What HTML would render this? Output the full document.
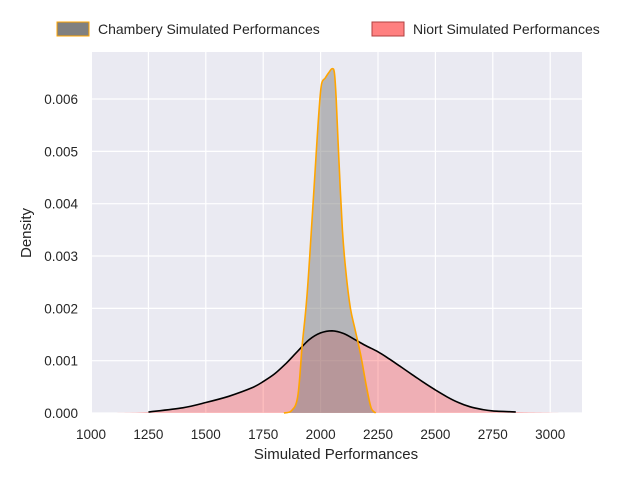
<!DOCTYPE html>
<html><head><style>
body{margin:0;background:#fff;}
svg text{font-family:"Liberation Sans",Arial,sans-serif;fill:#262626;}
</style></head><body>
<svg id="s" width="640" height="480" xmlns="http://www.w3.org/2000/svg">
<rect x="92" y="52" width="490" height="361" fill="#eaeaf2"/>
<g id="grid" stroke="#fff" stroke-width="1.2"></g>
<path id="niort" fill="rgba(255,0,0,0.25)" stroke="none"/>
<path id="cham" fill="rgba(128,128,128,0.5)" stroke="none"/>
<path id="niortL" fill="none" stroke="#000" stroke-width="1.6"/>
<path id="chamL" fill="none" stroke="#ffa500" stroke-width="1.6"/>
<g id="ticks" font-size="13.5"></g>
<text x="336" y="459" font-size="15" text-anchor="middle">Simulated Performances</text>
<text transform="translate(31,233) rotate(-90)" font-size="15" text-anchor="middle">Density</text>
<rect x="57" y="22" width="32" height="14" fill="#808080" stroke="#ffa500" stroke-width="1"/>
<text x="98" y="34" font-size="14">Chambery Simulated Performances</text>
<rect x="372" y="22" width="32" height="14" fill="#ff8080" stroke="#b04040" stroke-width="1"/>
<text x="413" y="34" font-size="14">Niort Simulated Performances</text>
</svg>
<script>
function X(v){return 91+(v-1000)*0.2296;}
function Y(d){return 413-d*52330;}
var g=document.getElementById('grid'),t=document.getElementById('ticks'),h='',tt='';
for(var v=1000;v<=3000;v+=250){h+='<line x1="'+X(v)+'" x2="'+X(v)+'" y1="52" y2="413"/>';tt+='<text x="'+X(v)+'" y="439" text-anchor="middle">'+v+'</text>';}
for(var i=0;i<=6;i++){var y=Y(i*0.001);h+='<line x1="92" x2="582" y1="'+y+'" y2="'+y+'"/>';tt+='<text x="78" y="'+(y+5)+'" text-anchor="end">'+(i*0.001).toFixed(3)+'</text>';}
g.innerHTML=h;t.innerHTML=tt;
var N=[[1100,0],[1250,0.00002],[1400,0.0001],[1500,0.0002],[1600,0.00032],[1700,0.00048],[1750,0.0006],[1800,0.00075],[1850,0.00095],[1900,0.00118],[1950,0.0014],[2000,0.00153],[2050,0.00157],[2100,0.00152],[2150,0.0014],[2200,0.00128],[2250,0.00117],[2300,0.00103],[2350,0.00088],[2400,0.00073],[2450,0.00058],[2500,0.00044],[2550,0.00031],[2600,0.0002],[2650,0.00012],[2700,0.00007],[2750,0.00004],[2850,0.00002],[3000,0.000005],[3060,0]];
var C=[[1840,0],[1870,0.00003],[1900,0.0003],[1920,0.0013],[1940,0.0022],[1960,0.0035],[1980,0.0049],[1995,0.0059],[2005,0.0063],[2020,0.0064],[2035,0.0065],[2050,0.00658],[2060,0.0065],[2068,0.006],[2080,0.0048],[2095,0.0035],[2110,0.0027],[2130,0.002],[2150,0.0016],[2175,0.0011],[2200,0.0005],[2220,0.0001],[2240,0]];
function P(a){
  var p=a.map(function(q){return [X(q[0]),Y(q[1])];});
  var d='M'+p[0][0].toFixed(1)+' '+p[0][1].toFixed(1);
  for(var i=0;i<p.length-1;i++){
    var p0=p[i-1]||p[i],p1=p[i],p2=p[i+1],p3=p[i+2]||p2;
    var c1x=p1[0]+(p2[0]-p0[0])/6,c1y=p1[1]+(p2[1]-p0[1])/6;
    var c2x=p2[0]-(p3[0]-p1[0])/6,c2y=p2[1]-(p3[1]-p1[1])/6;
    c1y=Math.min(c1y,413);c2y=Math.min(c2y,413);
    d+=' C'+c1x.toFixed(1)+' '+c1y.toFixed(1)+' '+c2x.toFixed(1)+' '+c2y.toFixed(1)+' '+p2[0].toFixed(1)+' '+p2[1].toFixed(1);
  }
  return d;
}
document.getElementById('niort').setAttribute('d',P(N)+'Z');
document.getElementById('cham').setAttribute('d',P(C)+'Z');
document.getElementById('niortL').setAttribute('d',P(N.slice(1,-2)));
document.getElementById('chamL').setAttribute('d',P(C));
</script>
</body></html>
